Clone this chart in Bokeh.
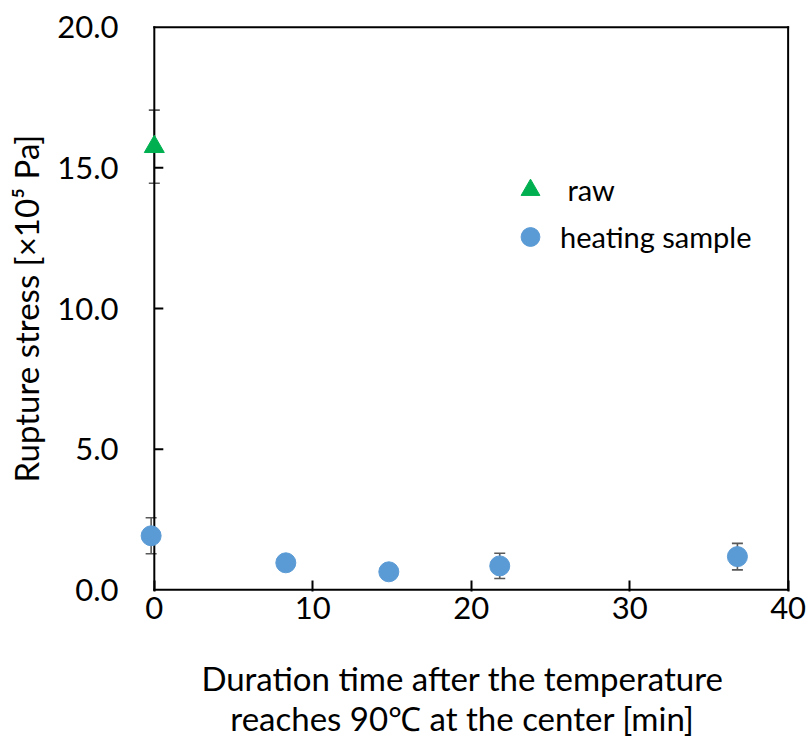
from bokeh.plotting import figure
from bokeh.models import ColumnDataSource, Whisker, TeeHead, Legend, LegendItem, FixedTicker, NumeralTickFormatter, Range1d
from bokeh.embed import file_html
from bokeh.resources import INLINE

# ---- data ----
raw_x = [0.0]
raw_y = [15.75]
raw_err = [1.3]

heat_x = [-0.2, 8.3, 14.8, 21.8, 36.8]
heat_y = [1.92, 0.96, 0.64, 0.85, 1.18]
heat_err = [0.64, 0.10, 0.08, 0.45, 0.47]

x_ticks = [0, 10, 20, 30, 40]
y_ticks = [0, 5, 10, 15, 20]
y_inner_ticks = [5, 10, 15]
X_MIN, X_MAX = 0, 40
Y_MIN, Y_MAX = 0, 20

x_label = "Duration time after the temperature\nreaches 90\u2103 at the center [min]"
y_label = "Rupture stress [\u00d710\u2075 Pa]"

FONT = "Lato"
GREEN = "#00B050"
BLUE = "#5B9BD5"
ERR = "#595959"

p = figure(frame_width=656, frame_height=566,
           x_range=Range1d(-1.25, 40.15), y_range=Range1d(-0.06, 20.06),
           output_backend="svg", toolbar_location=None,
           min_border_left=134, min_border_top=25, min_border_right=21, min_border_bottom=160)
p.outline_line_color = None
p.xgrid.visible = False
p.ygrid.visible = False
p.background_fill_color = "white"

# frame box
p.segment(x0=[X_MIN, X_MIN, X_MAX, X_MIN], y0=[Y_MIN, Y_MAX, Y_MIN, Y_MIN],
          x1=[X_MAX, X_MAX, X_MAX, X_MIN], y1=[Y_MIN, Y_MAX, Y_MAX, Y_MAX],
          line_color="black", line_width=2, line_cap="square")
# inward y ticks on the x=0 line
p.ray(x=[X_MIN] * len(y_inner_ticks), y=y_inner_ticks, length=9, length_units="screen",
      angle=0, line_color="black", line_width=2)

raw_src = ColumnDataSource(dict(x=raw_x, y=raw_y,
                                upper=[v + e for v, e in zip(raw_y, raw_err)],
                                lower=[v - e for v, e in zip(raw_y, raw_err)]))
heat_src = ColumnDataSource(dict(x=heat_x, y=heat_y,
                                 upper=[v + e for v, e in zip(heat_y, heat_err)],
                                 lower=[v - e for v, e in zip(heat_y, heat_err)]))

for src in (raw_src, heat_src):
    w = Whisker(base="x", upper="upper", lower="lower", source=src,
                line_color=ERR, line_width=1.6, level="underlay",
                upper_head=TeeHead(size=11, line_color=ERR, line_width=1.6),
                lower_head=TeeHead(size=11, line_color=ERR, line_width=1.6))
    p.add_layout(w)

r_raw = p.scatter("x", "y", source=raw_src, marker="triangle", size=20,
                  fill_color=GREEN, line_color=GREEN)
r_heat = p.scatter("x", "y", source=heat_src, marker="circle", size=20,
                   fill_color=BLUE, line_color=BLUE)

legend = Legend(items=[LegendItem(label=" raw", renderers=[r_raw]),
                       LegendItem(label="heating sample", renderers=[r_heat])],
                location=(371, 331), border_line_color=None, background_fill_alpha=0,
                padding=0, margin=0, spacing=0, glyph_width=50, glyph_height=47,
                label_standoff=5, label_text_font=FONT, label_text_font_size="29px",
                label_text_color="black")
p.add_layout(legend)

# axes
p.xaxis.ticker = FixedTicker(ticks=x_ticks)
p.yaxis.ticker = FixedTicker(ticks=y_ticks)
p.yaxis.formatter = NumeralTickFormatter(format="0.0")
p.xaxis.axis_line_color = None
p.yaxis.axis_line_color = None
for ax in (p.xaxis, p.yaxis):
    ax.major_tick_out = 0
    ax.minor_tick_line_color = None
    ax.major_tick_line_color = "black"
    ax.major_tick_line_width = 2
    ax.major_label_text_font = FONT
    ax.major_label_text_font_size = "31px"
    ax.major_label_text_color = "black"
    ax.axis_label_text_font = FONT
    ax.axis_label_text_font_size = "33px"
    ax.axis_label_text_font_style = "normal"
    ax.axis_label_text_color = "black"
p.xaxis.major_tick_in = 11
p.yaxis.major_tick_in = 0
p.yaxis.major_tick_line_color = None

p.xaxis.axis_label = x_label
p.yaxis.axis_label = y_label
p.xaxis.axis_label_text_line_height = 1.0
p.xaxis.major_label_standoff = 5
p.xaxis.axis_label_standoff = 36
p.yaxis.major_label_standoff = 16
p.yaxis.axis_label_standoff = 8

open("out.html", "w").write(file_html(p, INLINE))
